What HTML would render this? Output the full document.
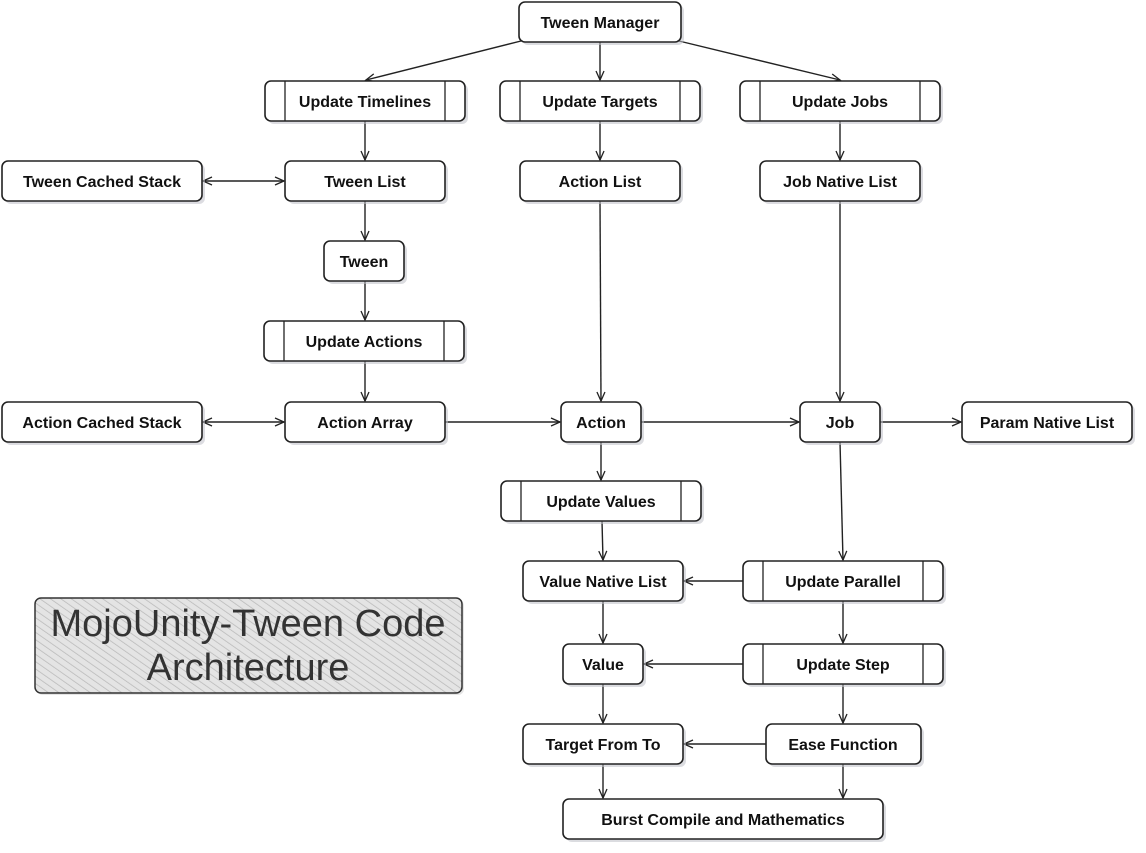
<!DOCTYPE html>
<html><head><meta charset="utf-8"><style>
html,body{margin:0;padding:0;background:#fff;}
svg{display:block}
text{font-family:"Liberation Sans",sans-serif;font-weight:bold;font-size:16px;fill:#111;}
</style></head><body>
<svg width="1146" height="853" viewBox="0 0 1146 853" xmlns="http://www.w3.org/2000/svg">
<defs>
<marker id="a" markerWidth="12" markerHeight="12" refX="10" refY="5" orient="auto" markerUnits="userSpaceOnUse">
<path d="M1,1 L10,5 L1,9" fill="none" stroke="#222" stroke-width="1.3"/></marker>
<marker id="b" markerWidth="12" markerHeight="12" refX="2" refY="5" orient="auto" markerUnits="userSpaceOnUse">
<path d="M11,1 L2,5 L11,9" fill="none" stroke="#222" stroke-width="1.3"/></marker>
<pattern id="h" width="6" height="6" patternUnits="userSpaceOnUse" patternTransform="rotate(-55)">
<rect width="6" height="6" fill="#e4e4e4"/><line x1="0" y1="0" x2="0" y2="6" stroke="#b8b8b8" stroke-width="1.5"/></pattern>
</defs>
<g stroke="#222" stroke-width="1.4" fill="none" marker-end="url(#a)">
<path d="M521,41 L366,80"/>
<path d="M600,42 L600,80"/>
<path d="M679,41 L840,80"/>
<path d="M365,121 L365,160"/>
<path d="M600,121 L600,160"/>
<path d="M840,121 L840,160"/>
<path d="M203,181 L284,181" marker-start="url(#b)"/>
<path d="M365,201 L365,240"/>
<path d="M365,281 L365,320"/>
<path d="M365,361 L365,401"/>
<path d="M203,422 L284,422" marker-start="url(#b)"/>
<path d="M445,422 L560,422"/>
<path d="M600,201 L601,401"/>
<path d="M840,201 L840,401"/>
<path d="M641,422 L799,422"/>
<path d="M880,422 L961,422"/>
<path d="M601,442 L601,480"/>
<path d="M840,442 L843,560"/>
<path d="M602,521 L603,560"/>
<path d="M743,581 L684,581"/>
<path d="M603,601 L603,643"/>
<path d="M843,601 L843,643"/>
<path d="M743,664 L644,664"/>
<path d="M603,684 L603,723"/>
<path d="M843,684 L843,723"/>
<path d="M766,744 L684,744"/>
<path d="M603,764 L603,798"/>
<path d="M843,764 L843,798"/>
</g>
<g id="nodes">
<!-- box template: shadow + box -->
<g>
<rect x="37" y="600" width="427" height="95" rx="6" fill="#ccc" opacity=".5"/>
<rect x="35" y="598" width="427" height="95" rx="6" fill="url(#h)" stroke="#333" stroke-width="1.5"/>
<text x="248" y="636" text-anchor="middle" style="font-weight:normal;font-size:38px;fill:#333">MojoUnity-Tween Code</text>
<text x="248" y="680" text-anchor="middle" style="font-weight:normal;font-size:38px;fill:#333">Architecture</text>
</g>
</g>
<g fill="#fff" stroke="#222" stroke-width="1.6">
<!-- shadows -->
<g fill="#bfc0c8" stroke="none" opacity=".55">
<rect x="522" y="5" width="162" height="40" rx="6"/>
<rect x="268" y="84" width="200" height="40" rx="6"/>
<rect x="503" y="84" width="200" height="40" rx="6"/>
<rect x="743" y="84" width="200" height="40" rx="6"/>
<rect x="5" y="164" width="200" height="40" rx="6"/>
<rect x="288" y="164" width="160" height="40" rx="6"/>
<rect x="523" y="164" width="160" height="40" rx="6"/>
<rect x="763" y="164" width="160" height="40" rx="6"/>
<rect x="327" y="244" width="80" height="40" rx="6"/>
<rect x="267" y="324" width="200" height="40" rx="6"/>
<rect x="5" y="405" width="200" height="40" rx="6"/>
<rect x="288" y="405" width="160" height="40" rx="6"/>
<rect x="564" y="405" width="80" height="40" rx="6"/>
<rect x="803" y="405" width="80" height="40" rx="6"/>
<rect x="965" y="405" width="170" height="40" rx="6"/>
<rect x="504" y="484" width="200" height="40" rx="6"/>
<rect x="526" y="564" width="160" height="40" rx="6"/>
<rect x="746" y="564" width="200" height="40" rx="6"/>
<rect x="566" y="647" width="80" height="40" rx="6"/>
<rect x="746" y="647" width="200" height="40" rx="6"/>
<rect x="526" y="727" width="160" height="40" rx="6"/>
<rect x="769" y="727" width="155" height="40" rx="6"/>
<rect x="566" y="802" width="320" height="40" rx="6"/>
</g>
<rect x="519" y="2" width="162" height="40" rx="6"/>
<rect x="265" y="81" width="200" height="40" rx="6"/>
<rect x="500" y="81" width="200" height="40" rx="6"/>
<rect x="740" y="81" width="200" height="40" rx="6"/>
<rect x="2" y="161" width="200" height="40" rx="6"/>
<rect x="285" y="161" width="160" height="40" rx="6"/>
<rect x="520" y="161" width="160" height="40" rx="6"/>
<rect x="760" y="161" width="160" height="40" rx="6"/>
<rect x="324" y="241" width="80" height="40" rx="6"/>
<rect x="264" y="321" width="200" height="40" rx="6"/>
<rect x="2" y="402" width="200" height="40" rx="6"/>
<rect x="285" y="402" width="160" height="40" rx="6"/>
<rect x="561" y="402" width="80" height="40" rx="6"/>
<rect x="800" y="402" width="80" height="40" rx="6"/>
<rect x="962" y="402" width="170" height="40" rx="6"/>
<rect x="501" y="481" width="200" height="40" rx="6"/>
<rect x="523" y="561" width="160" height="40" rx="6"/>
<rect x="743" y="561" width="200" height="40" rx="6"/>
<rect x="563" y="644" width="80" height="40" rx="6"/>
<rect x="743" y="644" width="200" height="40" rx="6"/>
<rect x="523" y="724" width="160" height="40" rx="6"/>
<rect x="766" y="724" width="155" height="40" rx="6"/>
<rect x="563" y="799" width="320" height="40" rx="6"/>
</g>
<g stroke="#222" stroke-width="1.3">
<path d="M285,81V121 M445,81V121"/>
<path d="M520,81V121 M680,81V121"/>
<path d="M760,81V121 M920,81V121"/>
<path d="M284,321V361 M444,321V361"/>
<path d="M521,481V521 M681,481V521"/>
<path d="M763,561V601 M923,561V601"/>
<path d="M763,644V684 M923,644V684"/>
</g>
<g text-anchor="middle">
<text x="600" y="28">Tween Manager</text>
<text x="365" y="107">Update Timelines</text>
<text x="600" y="107">Update Targets</text>
<text x="840" y="107">Update Jobs</text>
<text x="102" y="187">Tween Cached Stack</text>
<text x="365" y="187">Tween List</text>
<text x="600" y="187">Action List</text>
<text x="840" y="187">Job Native List</text>
<text x="364" y="267">Tween</text>
<text x="364" y="347">Update Actions</text>
<text x="102" y="428">Action Cached Stack</text>
<text x="365" y="428">Action Array</text>
<text x="601" y="428">Action</text>
<text x="840" y="428">Job</text>
<text x="1047" y="428">Param Native List</text>
<text x="601" y="507">Update Values</text>
<text x="603" y="587">Value Native List</text>
<text x="843" y="587">Update Parallel</text>
<text x="603" y="670">Value</text>
<text x="843" y="670">Update Step</text>
<text x="603" y="750">Target From To</text>
<text x="843" y="750">Ease Function</text>
<text x="723" y="825">Burst Compile and Mathematics</text>
</g>
</svg>
</body></html>
